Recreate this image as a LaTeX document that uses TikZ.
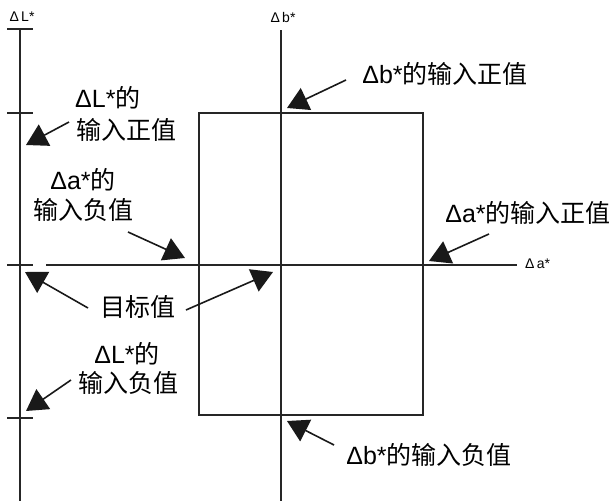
\documentclass[tikz,border=0pt]{standalone}
\usepackage{fontspec}
\setmainfont{Liberation Sans}
\newfontfamily\cjk{Noto Sans CJK SC}
\usetikzlibrary{arrows.meta}
\begin{document}
\begin{tikzpicture}[x=1pt,y=-1pt,
  axis/.style={line width=1.6pt,black!85},
  lbl/.style={inner sep=0pt,font=\fontsize{25}{31}\selectfont},
  axlbl/.style={inner sep=0pt,font=\fontsize{14}{16}\selectfont},
  ptr/.style={line width=1.6pt,black!90,-{Triangle[length=21pt,width=24pt]}}]
\useasboundingbox (0,0) rectangle (616,501);
% left scale
\draw[axis] (20,29) -- (20,501);
\foreach \yy in {29,113,265,418} \draw[axis] (7,\yy) -- (33,\yy);
\node[axlbl] (Lax) at (22,17) {Δ\,L*};
% b axis
\draw[axis] (281,30) -- (281,501);
\node[axlbl] (bax) at (283,17) {Δ\,b*};
% a axis
\draw[axis] (46,265) -- (517,265);
\node[axlbl,anchor=west] (aax) at (525,264) {Δ\,a*};
% rectangle
\draw[axis] (199,113) rectangle (423,415);
% labels
\node[lbl,anchor=center] (bpos) at (445,74) {Δb*{\cjk 的输入正值}};
\node[lbl,anchor=west] (Lpos1) at (75,98) {ΔL*{\cjk 的}};
\node[lbl,anchor=west] (Lpos2) at (76,130) {\cjk 输入正值};
\node[lbl] (aneg1) at (83,180) {Δa*{\cjk 的}};
\node[lbl] (aneg2) at (83,210) {\cjk 输入负值};
\node[lbl] (apos) at (528,213) {Δa*{\cjk 的输入正值}};
\node[lbl] (target) at (138,307) {\cjk 目标值};
\node[lbl] (Lneg1) at (127,354) {ΔL*{\cjk 的}};
\node[lbl] (Lneg2) at (128,383) {\cjk 输入负值};
\node[lbl] (bneg) at (429,455) {Δb*{\cjk 的输入负值}};
% arrow coordinates
\coordinate (s1) at (346,80);  \coordinate (t1) at (287,108);
\coordinate (s2) at (69,122);  \coordinate (t2) at (26,145);
\coordinate (s3) at (128,232); \coordinate (t3) at (185,258);
\coordinate (s4) at (489,234); \coordinate (t4) at (429,261);
\coordinate (s5) at (88,308);  \coordinate (t5) at (25,272);
\coordinate (s6) at (186,310); \coordinate (t6) at (273,272);
\coordinate (s7) at (71,380);  \coordinate (t7) at (26,411);
\coordinate (s8) at (334,445); \coordinate (t8) at (287,421);
\foreach \i in {1,...,8} \draw[ptr] (s\i) -- (t\i);
\end{tikzpicture}
\end{document}
